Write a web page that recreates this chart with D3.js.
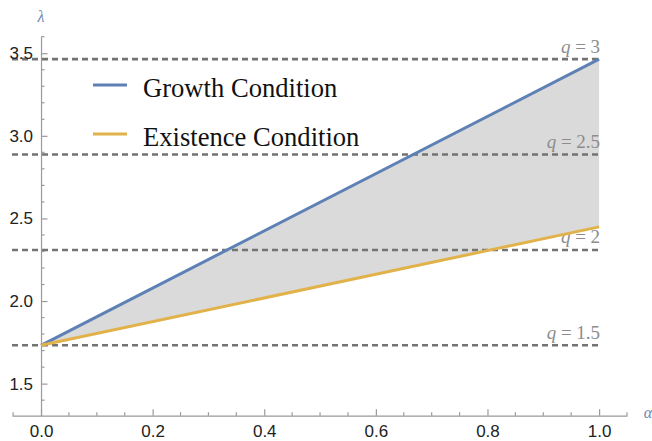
<!DOCTYPE html>
<html>
<head>
<meta charset="utf-8">
<script src="https://cdn.jsdelivr.net/npm/d3@7"></script>
<style>
  body { margin: 0; background: #fff; }
  svg { display: block; }
</style>
</head>
<body>
<div id="chart"></div>
<script>
// data
const alpha = [0, 1];
const growth = [1.732, 3.464];
const existence = [1.732, 2.449];
const qValues = ['1.5', '2', '2.5', '3'];
const qLevels = [1.732, 2.309, 2.887, 3.464];
const xTicks = [0, 0.2, 0.4, 0.6, 0.8, 1.0];
const yTicks = [1.5, 2.0, 2.5, 3.0, 3.5];
const xMinor = [-0.05, 0.05, 0.1, 0.15, 0.25, 0.3, 0.35, 0.45, 0.5, 0.55, 0.65, 0.7, 0.75, 0.85, 0.9, 0.95, 1.05];
const yMinor = [1.4, 1.6, 1.7, 1.8, 1.9, 2.1, 2.2, 2.3, 2.4, 2.6, 2.7, 2.8, 2.9, 3.1, 3.2, 3.3, 3.4, 3.6];
const legendNames = ['Growth Condition', 'Existence Condition'];

const w = 652, h = 441;
const colors = ['#5e81b5', '#e2b24a'];
const axisColor = '#9a9a9a';

const svg = d3.select('#chart').append('svg').attr('width', w).attr('height', h);

const x = d3.scaleLinear().domain([-0.052, 1.05]).range([12, 627]);
const y = d3.scaleLinear().domain([1.306, 3.6]).range([415.7, 36.7]);

// shaded region between the two conditions
const rows = alpha.map((a, i) => ({ a: a, hi: growth[i], lo: existence[i] }));
svg.append('path').datum(rows)
    .attr('d', d3.area().x(d => x(d.a)).y0(d => y(d.lo)).y1(d => y(d.hi)))
    .attr('fill', '#dadada');

// q reference lines
svg.selectAll('line.q').data(qLevels).enter().append('line')
    .attr('class', 'q')
    .attr('x1', x(-0.052)).attr('x2', x(1))
    .attr('y1', d => y(d)).attr('y2', d => y(d))
    .attr('stroke', '#737373').attr('stroke-width', 2.6)
    .attr('stroke-dasharray', '6,4');

// q labels
const ql = svg.selectAll('text.q').data(qLevels).enter().append('text')
    .attr('class', 'q')
    .attr('x', x(1) + 1).attr('y', d => y(d) - 6.5)
    .attr('text-anchor', 'end')
    .style('font-family', '"Liberation Serif", "DejaVu Serif", serif')
    .style('font-size', '19px')
    .attr('fill', '#8c8c8c');
ql.append('tspan').style('font-style', 'italic').text('q');
ql.append('tspan').text((d, i) => ' = ' + qValues[i]);

// axes
const xAxis = d3.axisBottom(x).tickValues(xTicks).tickFormat(d3.format('.1f'))
    .tickSizeInner(-6.5).tickSizeOuter(0).tickPadding(9);
const yAxis = d3.axisLeft(y).tickValues(yTicks).tickFormat(d3.format('.1f'))
    .tickSizeInner(-6.5).tickSizeOuter(0).tickPadding(8);

const gx = svg.append('g').attr('transform', `translate(0,${y(1.306)})`).call(xAxis);
const gy = svg.append('g').attr('transform', `translate(${x(0)},0)`).call(yAxis);

[gx, gy].forEach(g => {
    g.select('.domain').attr('stroke', axisColor).attr('stroke-width', 1.2);
    g.selectAll('.tick line').attr('stroke', axisColor).attr('stroke-width', 1.2);
    g.selectAll('.tick text')
        .attr('fill', '#222')
        .style('font-family', '"Liberation Sans", Arial, sans-serif')
        .style('font-size', '17px');
});

gx.selectAll('.minor').data(xMinor).enter().append('line')
    .attr('class', 'minor')
    .attr('x1', d => x(d)).attr('x2', d => x(d))
    .attr('y1', 0).attr('y2', -3.5)
    .attr('stroke', axisColor).attr('stroke-width', 1.2);
gy.selectAll('.minor').data(yMinor).enter().append('line')
    .attr('class', 'minor')
    .attr('y1', d => y(d)).attr('y2', d => y(d))
    .attr('x1', 0).attr('x2', 3.5)
    .attr('stroke', axisColor).attr('stroke-width', 1.2);

// axis names
svg.append('text').attr('x', x(0)).attr('y', 22).attr('text-anchor', 'middle')
    .style('font-family', '"Liberation Serif", serif').style('font-style', 'italic')
    .style('font-size', '16px').attr('fill', '#6f86b3').text('\u03bb');
svg.append('text').attr('x', 648).attr('y', 418).attr('text-anchor', 'middle')
    .style('font-family', '"Liberation Serif", serif').style('font-style', 'italic')
    .style('font-size', '16px').attr('fill', '#6f86b3').text('\u03b1');

// condition lines
const line = d3.line().x(d => x(d[0])).y(d => y(d[1]));
[growth, existence].forEach((s, i) => {
    svg.append('path').datum(alpha.map((a, j) => [a, s[j]]))
        .attr('d', line)
        .attr('fill', 'none')
        .attr('stroke', colors[i])
        .attr('stroke-width', 3);
});

// legend
const leg = svg.selectAll('g.leg').data(legendNames).enter().append('g')
    .attr('class', 'leg')
    .attr('transform', (d, i) => `translate(93,${85 + i * 49})`);
leg.append('line').attr('x1', 0).attr('x2', 34).attr('y1', 0).attr('y2', 0)
    .attr('stroke', (d, i) => colors[i]).attr('stroke-width', 3);
leg.append('text').attr('x', 50).attr('y', 12)
    .style('font-family', '"Liberation Serif", "Times New Roman", serif')
    .style('font-size', '26.6px')
    .attr('fill', '#111')
    .text(d => d);
</script>
</body>
</html>
